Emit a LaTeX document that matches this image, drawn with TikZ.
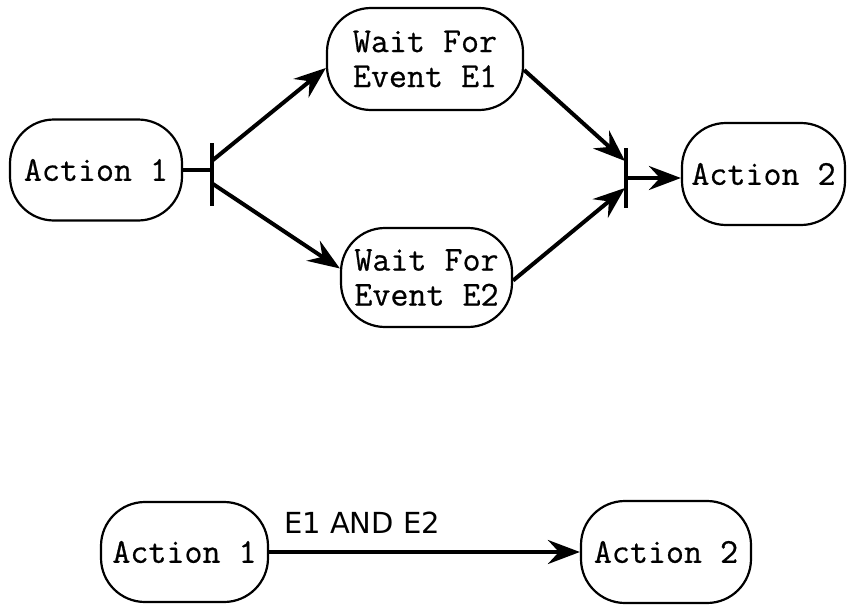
\documentclass[tikz,border=0pt]{standalone}
\usepackage{fontspec}
\newfontfamily\guardfont{DejaVu Sans}
\newfontfamily\statefont[FakeBold=0.6]{Latin Modern Mono}
\usetikzlibrary{arrows.meta}
\tikzset{
  state/.style={draw, line width=2.2pt, rounded corners=44pt, inner sep=0pt,
    align=center, font=\statefont\fontsize{35}{35}\selectfont},
  bar/.style={fill=black, inner sep=0pt, minimum width=4.5pt},
  flow/.style={line width=4pt, -{Stealth[length=32pt,width=24pt,inset=11pt]}},
  plain/.style={line width=4.5pt},
  guard/.style={font=\guardfont\fontsize{29}{30}\selectfont, inner sep=0pt}
}
\begin{document}
\begin{tikzpicture}[x=1pt,y=-1pt]
\useasboundingbox (0,0) rectangle (847,605);

% upper chart: fork into two waits, join into the next action
\node[state, minimum width=172pt, minimum height=101pt] (a1) at (96,170) {Action 1};
\node[state, minimum width=196pt, minimum height=102pt] (w1) at (425,59) {Wait For\\Event E1};
\node[state, minimum width=171pt, minimum height=99pt] (w2) at (426.5,277.5) {Wait For\\Event E2};
\node[state, minimum width=163pt, minimum height=102pt] (a2) at (763.5,174) {Action 2};

\node[bar, minimum height=63pt] (fork) at (212,174) {};
\node[bar, minimum height=60pt] (join) at (626,178) {};

\coordinate (fu) at (213,160);
\coordinate (fd) at (213,184);
\coordinate (ju) at (625,161);
\coordinate (jd) at (625,188);

\draw[plain] (a1.east) -- (a1.east -| fork.center);
\draw[flow] (fu) -- ([yshift=-9pt]w1.west);
\draw[flow] (fd) -- ([yshift=9pt]w2.west);
\draw[flow] ([yshift=-11pt]w1.east) -- (ju);
\draw[flow] ([yshift=-3pt]w2.east) -- (jd);
\draw[flow] (join.center) -- (join.center -| a2.west);

% lower chart: the same step as a single guarded transition
\node[state, minimum width=167pt, minimum height=100pt] (b1) at (184.5,552) {Action 1};
\node[state, minimum width=170pt, minimum height=102pt] (b2) at (666,552) {Action 2};
\draw[flow] (b1.east) -- (b2.west);
\node[guard] (cond) at (362,523) {E1 AND E2};
\end{tikzpicture}
\end{document}
